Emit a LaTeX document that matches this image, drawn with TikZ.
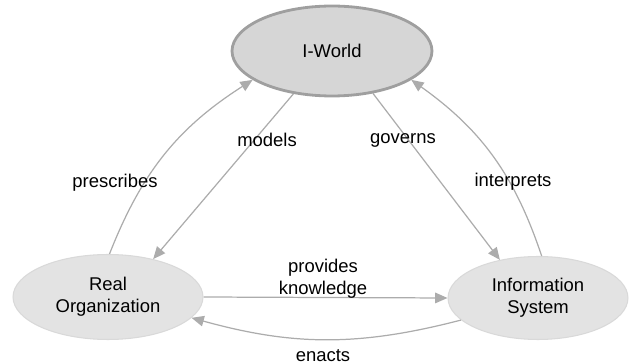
\documentclass[tikz,border=0pt]{standalone}
\usepackage{fontspec}
\setmainfont{Liberation Sans}
\usetikzlibrary{shapes.geometric,arrows.meta}
\tikzset{/org/world/.style={ellipse, draw=gray!75, line width=1.6pt, fill=gray!32, inner sep=0pt, minimum width=4cm, minimum height=1.8cm, align=center
}}
\tikzset{/org/part/.style={ellipse, draw=gray!30, line width=0.6pt, fill=gray!22, inner sep=0pt, align=center
}}
\tikzset{/org/flow/.style={draw=gray!65, line width=0.7pt, -{Triangle[length=7pt,width=6pt]}, shorten >=0pt
}}
\tikzset{/org/label/.style={inner sep=1pt, align=center
}}

\begin{document}
\begin{tikzpicture}[x=0.02cm, y=-0.02cm, font=\fontsize{10.5}{12.6}\selectfont]
		\useasboundingbox (0,0) rectangle (629,364);
		\node[/org/world] (world) at (332,51) {I-World};
		\node[/org/part, minimum width=3.8cm, minimum height=1.7cm] (real) at (108,297) {Real\\Organization};
		\node[/org/part, minimum width=3.6cm, minimum height=1.66cm] (info) at (538,298) {Information\\System};

		\draw[/org/flow] (world.228) -- (real.40);
		\draw[/org/flow] (world.314) -- (info.135);
		\draw[/org/flow] (real.88) to[bend left=18] (world.200);
		\draw[/org/flow] (info.85) to[bend right=18] (world.340);
		\draw[/org/flow] (real.0) -- (info.180);
		\draw[/org/flow] (info.196) to[bend left=15] (real.346);

		\node[/org/label] (models) at (267,140) {models};
		\node[/org/label] (governs) at (403,140) {governs};
		\node[/org/label] (prescribes) at (115,183) {prescribes};
		\node[/org/label] (interprets) at (513,182) {interprets};
		\node[/org/label] (provides) at (323,279) {provides\\knowledge};
		\node[/org/label] (enacts) at (323,356) {enacts};
	\end{tikzpicture}
\end{document}
